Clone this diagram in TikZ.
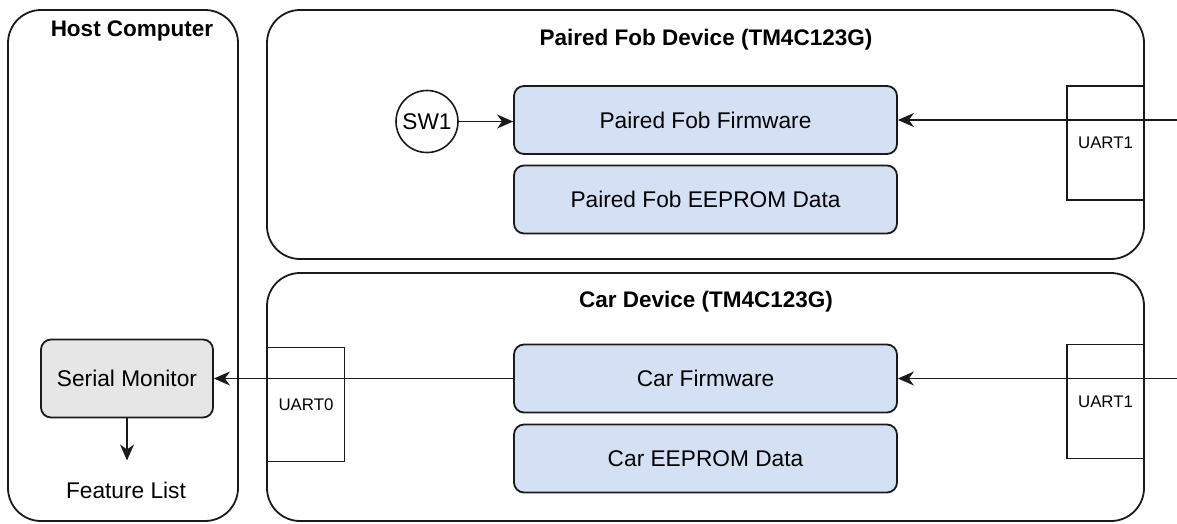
\documentclass[tikz,border=0pt]{standalone}
\usepackage{fontspec}
\setmainfont{Liberation Sans}
\usetikzlibrary{arrows.meta}
\definecolor{fwblue}{HTML}{D4E1F5}
\definecolor{mongray}{HTML}{E6E6E6}
\definecolor{edge}{HTML}{1A1A1A}

\begin{document}
\begin{tikzpicture}[x=1pt,y=-1pt,
  container/.style={draw=edge, line width=1.8pt, rounded corners=33pt, inner sep=0pt},
  block/.style={draw=edge, line width=1.8pt, fill=fwblue, rounded corners=10pt,
    minimum width=383pt, minimum height=68pt, inner sep=0pt,
    font=\fontsize{22.7}{27}\selectfont},
  port/.style={draw=edge, line width=1.6pt, minimum width=77pt, minimum height=114pt,
    inner sep=0pt, font=\fontsize{16.8}{20}\selectfont},
  heading/.style={font=\bfseries\fontsize{22.5}{27}\selectfont, inner sep=0pt, anchor=base},
  plain/.style={font=\fontsize{22.7}{27}\selectfont, inner sep=0pt},
  flow/.style={draw=edge, line width=1.6pt, -{Stealth[length=16pt,width=14pt,inset=5pt]}}
]
\useasboundingbox (0,0) rectangle (1177,523);

% outer device frames
\node[container, minimum width=230pt, minimum height=511pt] (host) at (123,265.5) {};
\node[container, minimum width=877pt, minimum height=249pt] (fob) at (705.5,134.5) {};
\node[container, minimum width=877pt, minimum height=248pt] (car) at (705.5,397) {};

\node[heading] (hosttitle) at (132,36) {Host Computer};
\node[heading] (fobtitle) at (706,45) {Paired Fob Device (TM4C123G)};
\node[heading] (cartitle) at (706,307) {Car Device (TM4C123G)};

% UART ports on the frame edges
\node[port] (fobuart) at (1105.5,143) {UART1};
\node[port] (caruart) at (1105.5,401.5) {UART1};
\node[port] (hostuart) at (306,404.5) {UART0};

% external serial lines entering from the right
\coordinate (fobin) at (1177,120);
\coordinate (carin) at (1177,378.5);

% firmware and storage blocks
\node[block] (fobfw) at (705.5,120) {Paired Fob Firmware};
\node[block] (fobee) at (705.5,199.5) {Paired Fob EEPROM Data};
\node[block] (carfw) at (705.5,378.5) {Car Firmware};
\node[block] (caree) at (705.5,458.5) {Car EEPROM Data};

% push button
\node[draw=edge, line width=1.6pt, circle, minimum size=62pt, inner sep=0pt,
  font=\fontsize{22.7}{27}\selectfont] (sw) at (427,121.5) {SW1};

% host side
\node[draw=edge, line width=1.8pt, fill=mongray, rounded corners=10pt,
  minimum width=172pt, minimum height=78pt, inner sep=0pt,
  font=\fontsize{22.7}{27}\selectfont] (serial) at (127,378.5) {Serial Monitor};
\node[plain] (feat) at (126,490) {Feature List};

% connectors
\draw[flow] (sw.east) -- (sw.east -| fobfw.west);
\draw[flow] (fobin) -- (fobfw.east);
\draw[flow] (carin) -- (carfw.east);
\draw[flow] (carfw.west) -- (serial.east);
\draw[flow, shorten >=21pt] (serial.south) -- (serial.south |- feat.north);
\end{tikzpicture}
\end{document}
